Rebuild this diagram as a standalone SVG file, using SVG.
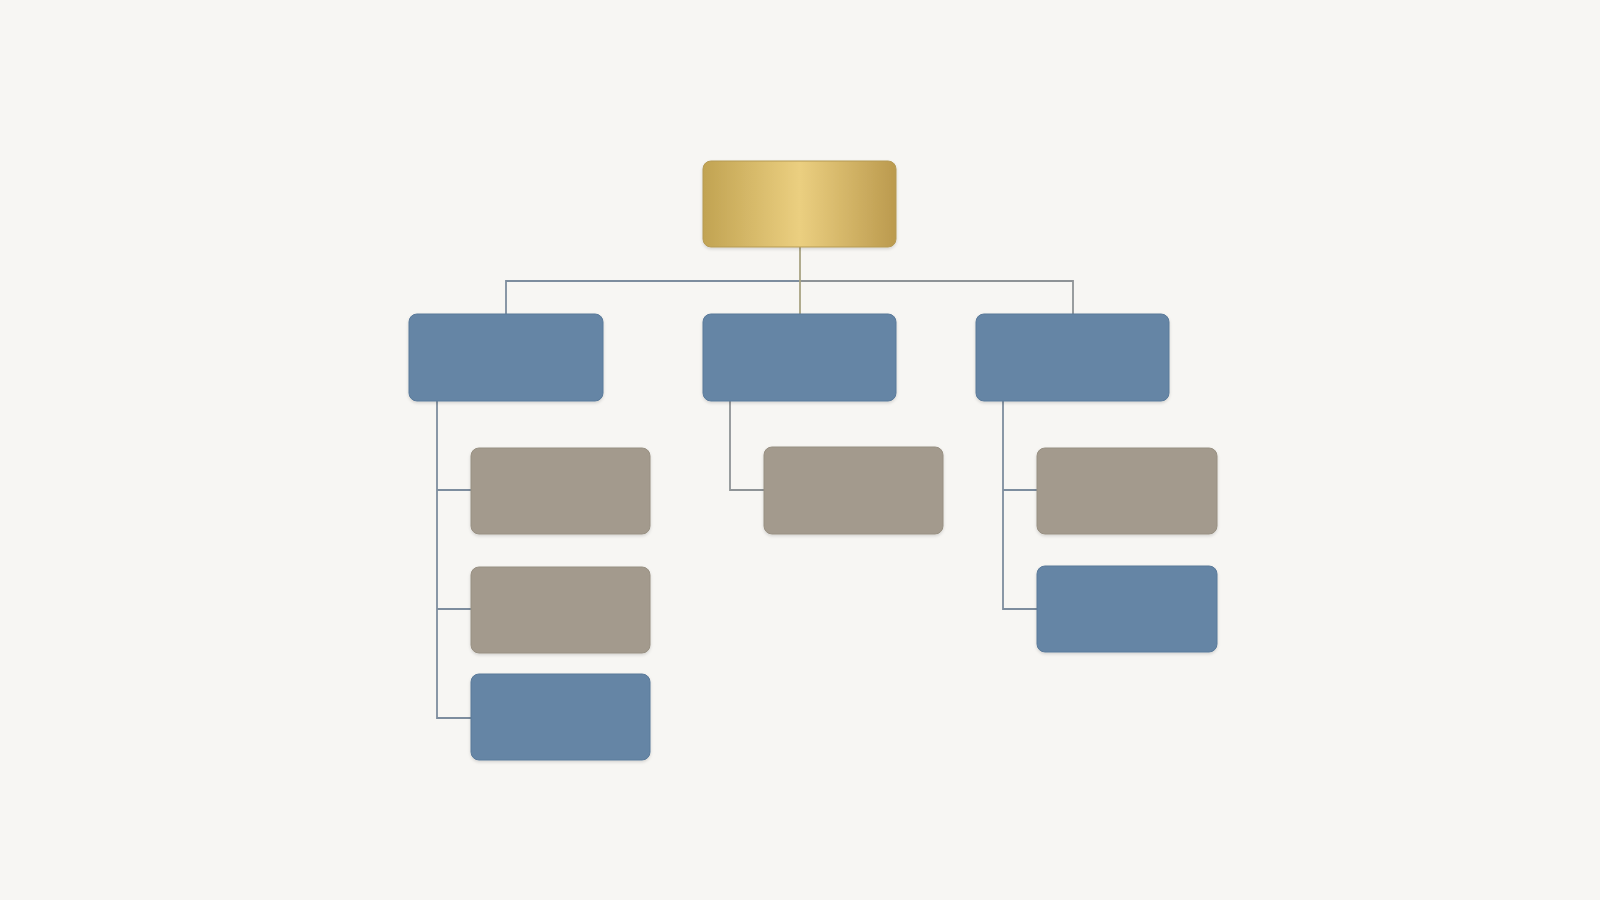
<svg xmlns="http://www.w3.org/2000/svg" width="1600" height="900" viewBox="0 0 1600 900">
<defs>
<linearGradient id="gold" x1="0" y1="0" x2="1" y2="0">
<stop offset="0" stop-color="#c1a352"/>
<stop offset="0.5" stop-color="#ebcf80"/>
<stop offset="1" stop-color="#bb9a4e"/>
</linearGradient>
<filter id="sh" x="-10%" y="-10%" width="120%" height="130%">
<feDropShadow dx="0" dy="1.5" stdDeviation="1.5" flood-color="#000" flood-opacity="0.15"/>
</filter>
</defs>
<style>
.blue{fill:#6585a5;stroke:#5a7a9a;stroke-width:1}
.taupe{fill:#a39a8d;stroke:#989082;stroke-width:1}
.gold{fill:url(#gold);stroke:#b59a55;stroke-width:1}
.box{filter:url(#sh)}
.c{fill:none;stroke:#7d8d9e;stroke-width:1.8}
.c2{fill:none;stroke:#8e9396;stroke-width:1.8}
.cg{fill:none;stroke:#a8a382;stroke-width:1.8}
</style>
<rect width="1600" height="900" fill="#f7f6f3"/>
<g id="connectors">
<path class="c" d="M506 314 V281 H800"/>
<path class="c2" d="M800 281 H1073 V314"/>
<path class="cg" d="M800 247 V314"/>
<path class="c" d="M437 401 V718 H471 M437 490 H471 M437 609 H471"/>
<path class="c2" d="M730 401 V490 H764"/>
<path class="c" d="M1003 401 V609 H1037 M1003 490 H1037"/>
</g>
<g id="root" class="box"><rect class="gold" x="703" y="161" width="193" height="86" rx="8"/></g>
<g id="left" class="box"><rect class="blue" x="409" y="314" width="194" height="87" rx="8"/></g>
<g id="middle" class="box"><rect class="blue" x="703" y="314" width="193" height="87" rx="8"/></g>
<g id="right" class="box"><rect class="blue" x="976" y="314" width="193" height="87" rx="8"/></g>
<g id="left-child-1" class="box"><rect class="taupe" x="471" y="448" width="179" height="86" rx="8"/></g>
<g id="left-child-2" class="box"><rect class="taupe" x="471" y="567" width="179" height="86" rx="8"/></g>
<g id="left-child-3" class="box"><rect class="blue" x="471" y="674" width="179" height="86" rx="8"/></g>
<g id="middle-child-1" class="box"><rect class="taupe" x="764" y="447" width="179" height="87" rx="8"/></g>
<g id="right-child-1" class="box"><rect class="taupe" x="1037" y="448" width="180" height="86" rx="8"/></g>
<g id="right-child-2" class="box"><rect class="blue" x="1037" y="566" width="180" height="86" rx="8"/></g>
</svg>
